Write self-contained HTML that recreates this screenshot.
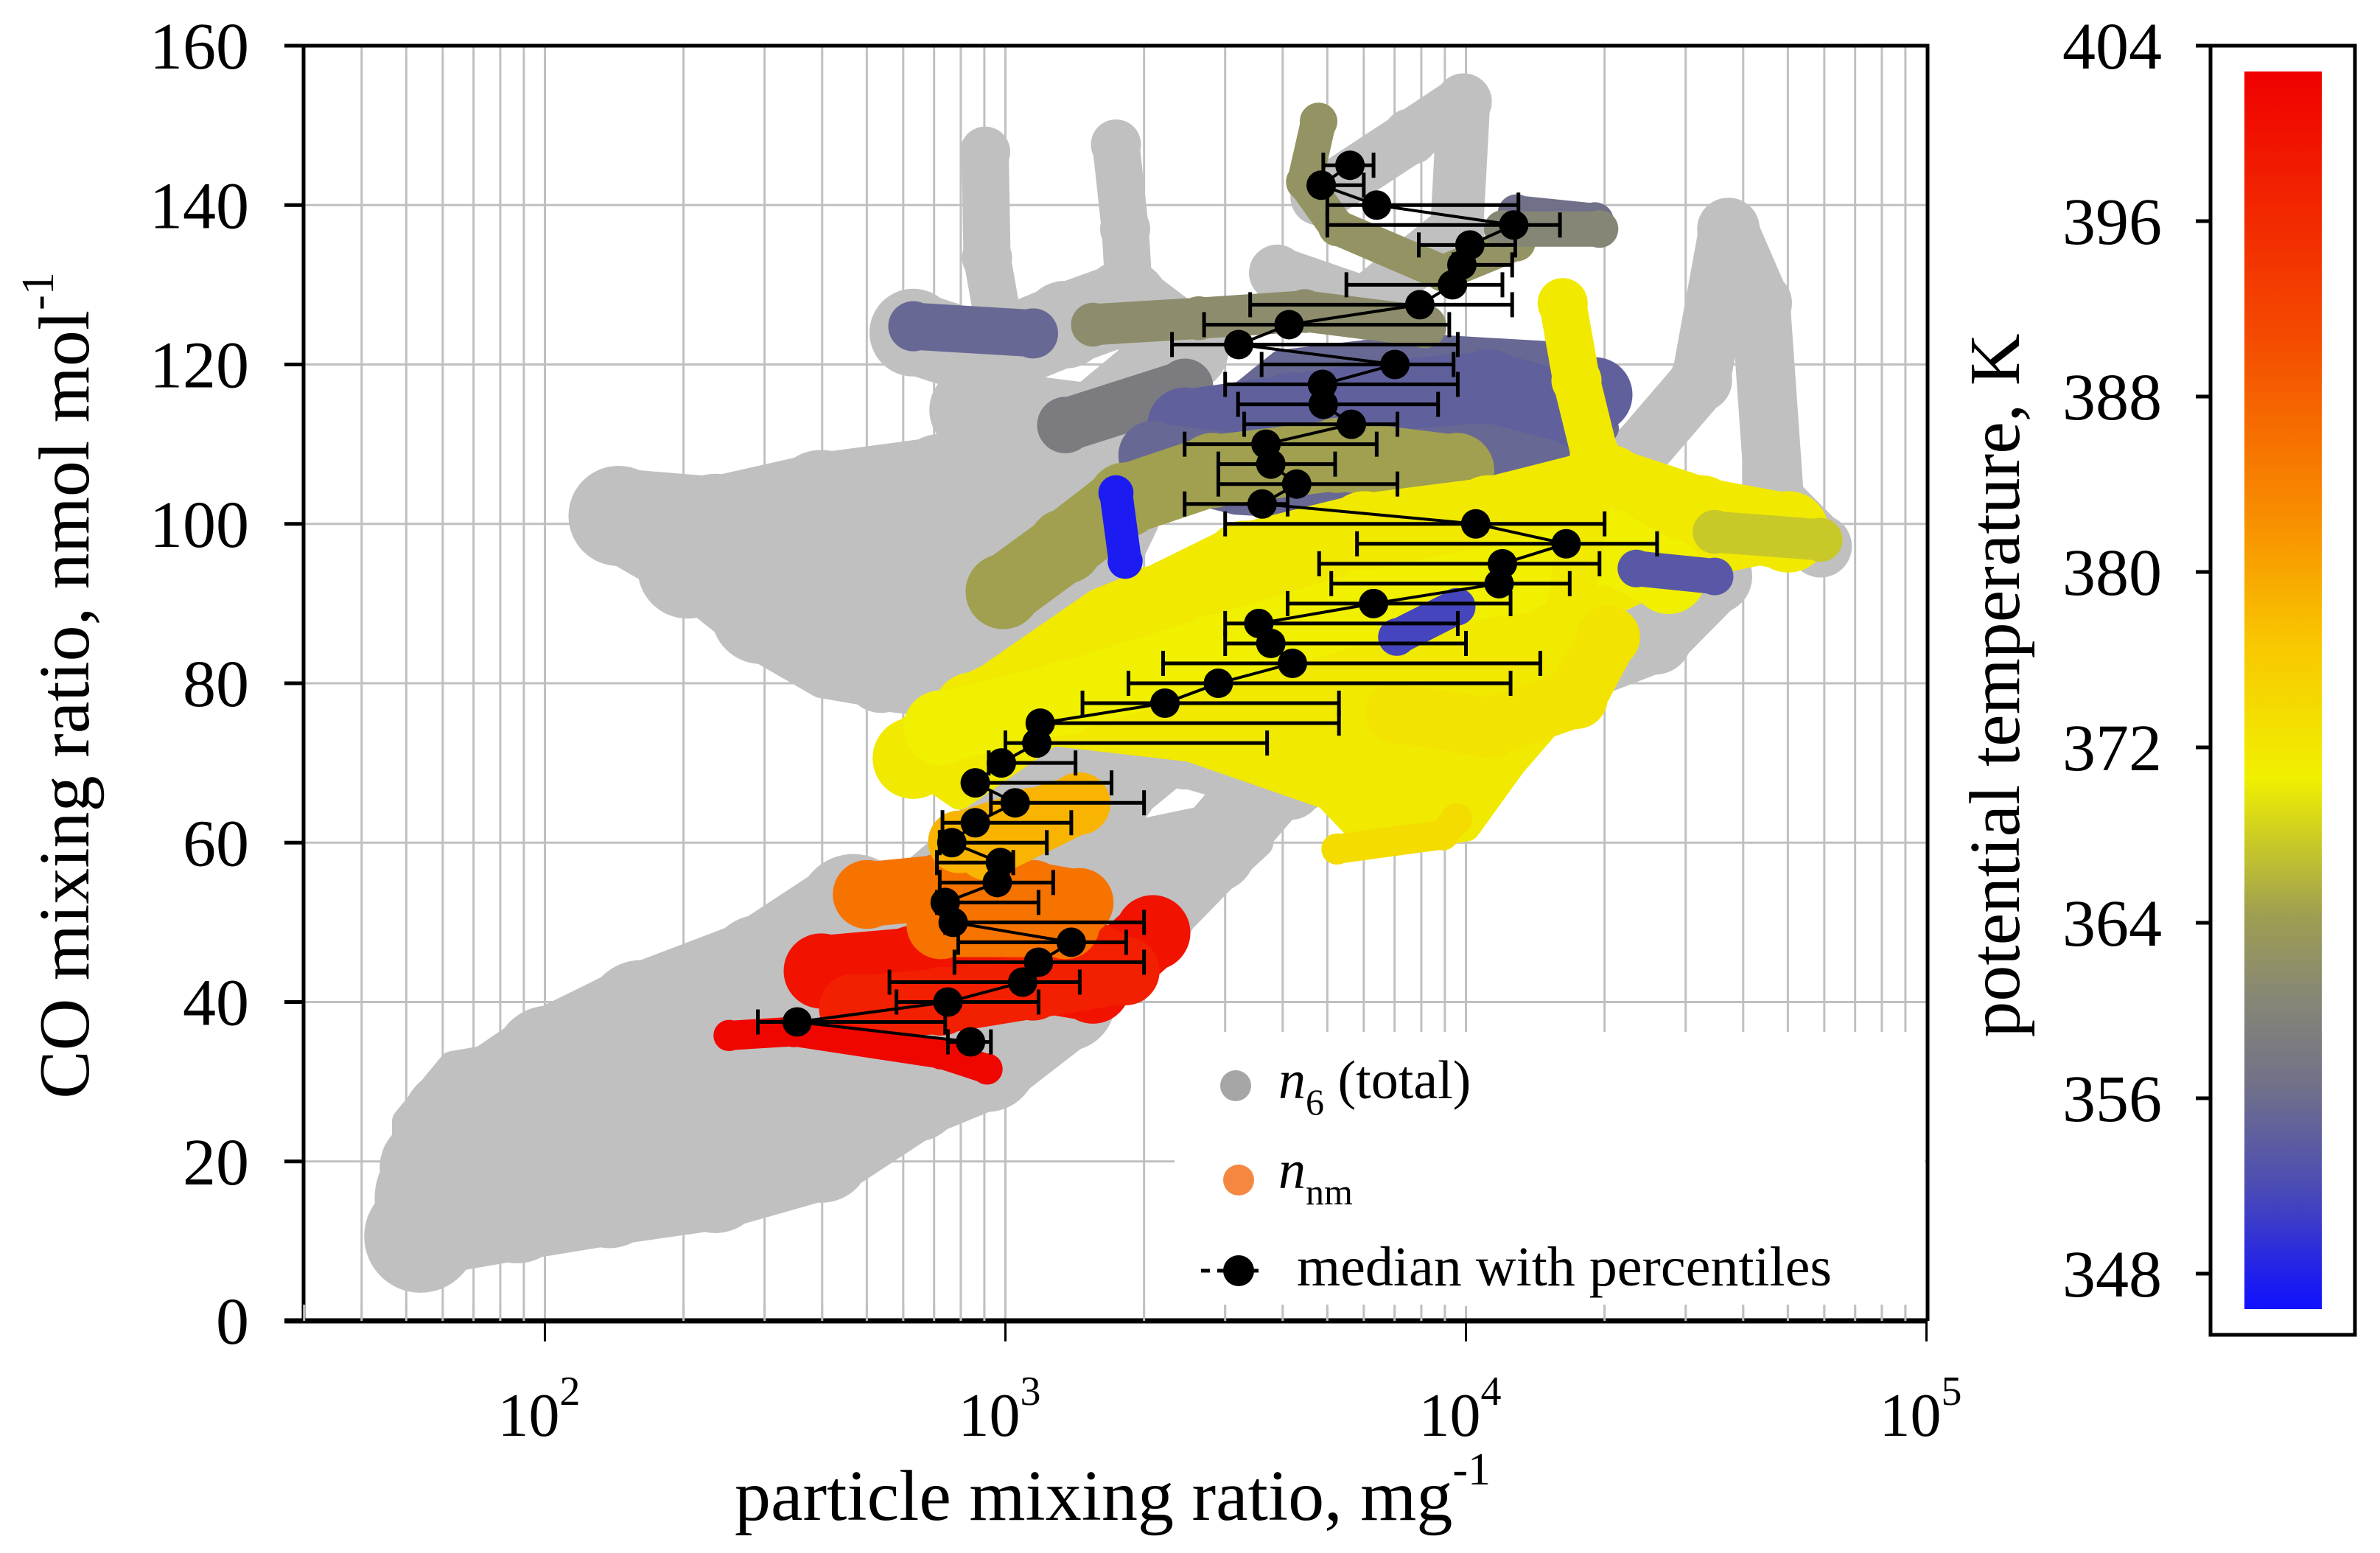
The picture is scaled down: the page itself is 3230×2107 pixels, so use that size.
<!DOCTYPE html>
<html><head><meta charset="utf-8">
<style>
html,body{margin:0;padding:0;background:#fff;}
svg{display:block;font-family:"Liberation Serif",serif;}
</style></head>
<body>
<svg id="chart" xmlns="http://www.w3.org/2000/svg" width="3230" height="2107" viewBox="0 0 3230 2107">
<defs>
<linearGradient id="cbgrad" x1="0" y1="0" x2="0" y2="1"></linearGradient>
<clipPath id="plotclip"><rect x="412" y="62" width="2204" height="1732"/></clipPath>
</defs>
<rect x="0" y="0" width="3230" height="2107" fill="#fff"/>
<g id="grid"></g>
<g id="clouds" clip-path="url(#plotclip)"></g>
<g id="medians"></g>
<g id="legend"></g>
<g id="axes"></g>
<g id="cbar"></g>
</svg>
<script>
// ---- data ----
const yTicks = [0,20,40,60,80,100,120,140,160];
const xDecades = [2,3,4,5];
const cbTicks = [404,396,388,380,372,364,356,348];

// median with percentiles (CO nmol/mol, particle mixing ratio mg^-1)
const medY  = [35,37.5,40,42.5,45,47.5,50,52.5,55,57.5,60,62.5,65,67.5,70,72.5,75,77.5,80,82.5,85,87.5,90,92.5,95,97.5,100,102.5,105,107.5,110,112.5,115,117.5,120,122.5,125,127.5,130,132.5,135,137.5,140,142.5,145];
const medX  = [840,353,750,1090,1180,1390,770,740,960,975,765,860,1050,860,980,1170,1190,2220,2900,4200,3770,3550,6300,11800,12000,16500,10500,3610,4290,3770,3680,5640,4900,4880,7010,3210,4130,7940,9350,9800,10200,12700,6400,4850,5600];
const medLo = [750,290,580,560,775,790,740,710,720,710,720,730,930,850,920,1000,1180,1470,1850,2200,3000,3000,4100,5100,4800,5800,3000,2450,2900,2900,2450,3300,3200,3000,3600,2300,2700,3400,5500,9400,7900,5000,5000,4700,4900];
const medHi = [930,740,1180,1450,2000,1830,2000,1180,1270,1040,1230,1390,2000,1700,1420,3700,5300,5300,12500,14500,10000,9600,12500,16800,19500,26000,20000,4100,7100,5200,6400,7100,8700,9600,9400,9600,9200,12600,12000,12600,12800,16000,13000,6000,6300];

// dense gray cloud outlines (log10 x, CO)
const grayAreaLogX = [
 [1.70,2.0,2.4,2.6,2.8,3.0,3.2,3.4,3.55,3.45,3.2,3.0,2.8,2.6,2.4,2.2,2.0,1.8,1.70],
 [2.15,2.4,2.6,2.9,3.2,3.3,3.2,3.0,2.8,2.6,2.45,2.3,2.15]
];
const grayAreaY = [
 [7,10,14,20,27,33,42,52,60,63,60,58,52,46,40,37,34,32,25],
 [102,104,106,108,110,100,88,80,78,80,85,92,97]
];
// dense coloured cloud outlines
const colAreaLogX = [
 [2.8,2.95,3.2,3.5,3.9,4.3,4.6,4.75,4.5,4.3,4.25,4.1,4.0,3.8,3.7,3.4,3.1,2.9],
 [3.3,3.6,3.9,4.2,4.3,4.1,3.8,3.5]
];
const colAreaY = [
 [70,80,90,97,101,104,101,98,95,90,80,70,62,60,66,72,74,66],
 [106,120,122,121,112,105,102,103]
];
const colAreaTheta = [373,357];

// gray n6 (total) tracks: log10(particle mixing ratio), CO
const grayLogX = [
 [1.78,1.98,2.21,2.40,2.60,2.80,2.995,3.19,3.39],
 [1.73,1.81,2.01,2.21,2.47,2.67],
 [1.75,1.94,2.14,2.37,2.60,2.80,2.96,3.13],
 [2.86,3.13,3.32,3.45,3.62,3.78,3.95],
 [2.16,2.37,2.60,2.86,3.09],
 [2.31,2.54,2.80,3.13],
 [2.47,2.67,2.93,3.19],
 [2.73,2.995,3.26],
 [2.80,2.96,3.13,3.26,3.39,3.19,2.93],
 [2.956,2.96,2.995],
 [3.24,3.26,3.27],
 [3.68,3.88,3.995,3.98,3.78,3.59],
 [4.11,4.37,4.51,4.57,4.64,4.67,4.77],
 [4.24,4.41,4.54,4.31,4.11],
 [3.39,3.62,3.85,4.08],
 [1.72,1.80,1.90]
];
const grayY = [
 [15.4,21.1,26.8,32.5,38.2,47.8,57.3,68.7,78.2],
 [10.6,24.7,32.5,38.2,43.9,51.5],
 [19.2,13.5,15.4,17.3,21.1,28.7,32.5,40.1],
 [36.3,43.9,51.5,59.2,70.6,80,85.8],
 [101,100,103,105,107],
 [94.4,92.5,95.3,99],
 [88.7,83.9,85.8,89.6],
 [81,79.1,82],
 [124,121,125,127.7,122,112.4,114.3],
 [146.7,133.4,122],
 [147.6,137,127.7],
 [141,148.6,153,137,127.7,131.5],
 [101,108.6,118,137,127.7,103,97.2],
 [82,85.8,93.4,95.3,85.8],
 [70.6,66.8,74.4,78.2],
 [8,14,20]
];
const grayW = [110,90,80,70,80,80,80,60,70,40,40,45,50,60,50,50];

// coloured nm tracks with potential temperature (K)
const colLogX = [
 [2.60,2.80,2.995,3.19,3.32],
 [2.67,2.86,3.06,3.26,3.13],
 [2.40,2.54,2.86,2.96],
 [2.70,2.86,3.06,3.16,3.13,2.86],
 [2.90,3.06,3.16,2.96],
 [3.13,3.39],
 [3.39,3.62,3.85,4.05,4.24,4.28],
 [3.32,3.59,3.78,3.98,4.11],
 [2.80,3.06],
 [4.11,4.28],
 [3.19,3.42,3.65,3.91],
 [3.68,3.65,3.72,3.95,4.11],
 [4.08,4.29],
 [2.995,3.13,3.26,3.45,3.72,3.98],
 [2.80,2.93,3.13,3.32,3.52,3.78,4.05,4.31,4.51,4.70],
 [2.86,3.13,3.45,3.78,4.11,4.31,4.44],
 [3.72,3.88,4.05,4.21,4.28,4.24,4.21],
 [3.72,3.95,3.98],
 [3.85,4.05,4.24,4.31],
 [4.54,4.77],
 [3.24,3.26],
 [3.85,3.98],
 [4.37,4.54]
];
const colY = [
 [43.9,44.9,43.9,42,48.7],
 [39.2,40.1,42,43.9,47.8],
 [35.8,36.3,33.5,31.6],
 [53.5,54.4,53.5,52.5,49.7,49.7],
 [60.1,63,64.9,59.2],
 [112.4,117.2],
 [112.4,114.3,116.2,117.2,114.3,116.2],
 [108.6,106.7,103,97.2,93.4],
 [124.8,123.9],
 [139,138],
 [125,125.8,126.7,124.8],
 [150.5,142.9,137.2,131.5,135.3],
 [137,137],
 [91.5,97.2,103,106.7,108.6,106.7],
 [70.6,76.3,82,89.6,95.3,99,101,104.8,101,99],
 [74.4,78.2,83.9,89.6,93.4,97.2,93.4],
 [66.8,70.6,76.3,83.9,108.6,118,127.7],
 [59.2,61,63],
 [76.3,74.4,78.2,85.8],
 [99,98],
 [103.9,95.3],
 [85.8,89.6],
 [94.4,93.4]
];
const colTheta = [401,399,403,387,380,360,356,357,357,358,363,364,362,366,373,372,373,375,374,369,349,353,355];
const colW = [60,55,25,55,50,45,60,55,40,30,35,30,30,60,65,60,40,25,50,35,28,30,30];

// colormap
const cmapT = [348,354,358,362,366,372,378,384,392,404];
const cmapC = [[16,16,255],[80,80,176],[112,112,138],[134,134,118],[160,160,80],[240,240,0],[248,200,0],[248,140,0],[244,74,0],[240,0,0]];

// ---- scales ----
const NS='http://www.w3.org/2000/svg';
const X0=412, X1=2616, Y0=1792, Y1=62;
function xs(logv){return 739.5+(logv-2)*625;}
function xv(v){return xs(Math.log10(v));}
function ys(v){return Y0-(v/160)*(Y0-Y1);}
function cbY(t){return 62+(404-t)*29.75;}
function cmap(t){
  if(t<=cmapT[0]) return cmapC[0];
  for(let i=1;i<cmapT.length;i++){ if(t<=cmapT[i]){const f=(t-cmapT[i-1])/(cmapT[i]-cmapT[i-1]);return cmapC[i-1].map((c,k)=>Math.round(c+(cmapC[i][k]-c)*f));}}
  return cmapC[cmapC.length-1];
}
function rgb(a){return 'rgb('+a.join(',')+')';}
function mk(tag,attrs,parent){const e=document.createElementNS(NS,tag);for(const k in attrs)e.setAttribute(k,attrs[k]);parent.appendChild(e);return e;}

// ---- grid ----
const grid=document.getElementById('grid');
for(let d=1;d<=4;d++){for(let m=1;m<=9;m++){const lv=d+Math.log10(m);if(lv<1.476||lv>5)continue;const x=xs(lv);
  const l=mk('line',{x1:x,x2:x,y1:Y1,y2:Y0,stroke:'#c0c0c0','stroke-width':3},grid);
  
  }}
yTicks.forEach(v=>{const l=mk('line',{x1:X0,x2:X1,y1:ys(v),y2:ys(v),stroke:'#c0c0c0','stroke-width':3},grid);
  
  });

// ---- clouds ----
const clouds=document.getElementById('clouds');
function area(lx,yy,col,name){
  const pts=lx.map((v,i)=>xs(v).toFixed(1)+','+ys(yy[i]).toFixed(1)).join(' ');
  const p=mk('polygon',{points:pts,fill:col,stroke:col,'stroke-width':40,'stroke-linejoin':'round'},clouds);
  
  
}
function track(lx,yy,w,col,name){
  const pts=lx.map((v,i)=>xs(v).toFixed(1)+','+ys(yy[i]).toFixed(1)).join(' ');
  const p=mk('polyline',{points:pts,fill:'none',stroke:col,'stroke-width':w*1.6,'stroke-linecap':'round','stroke-linejoin':'round'},clouds);
  
  
  lx.forEach((v,i)=>{const c=mk('circle',{cx:xs(v),cy:ys(yy[i]),r:w*0.85,fill:col},clouds);
    
    });
}
grayAreaLogX.forEach((lx,i)=>area(lx,grayAreaY[i],'#c0c0c0','n6-total-cloud'));
grayLogX.forEach((lx,i)=>track(lx,grayY[i],grayW[i],'#c0c0c0','n6-total-track'));
colAreaLogX.forEach((lx,i)=>area(lx,colAreaY[i],rgb(cmap(colAreaTheta[i])),'nnm-cloud'));
colLogX.forEach((lx,i)=>track(lx,colY[i],colW[i],rgb(cmap(colTheta[i])),'nnm-track'));

// ---- medians ----
const med=document.getElementById('medians');
medY.forEach((v,i)=>{const y=ys(v);
  const e=mk('line',{x1:xv(medLo[i]),x2:xv(medHi[i]),y1:y,y2:y,stroke:'#000','stroke-width':5},med);
  
  
  [medLo[i],medHi[i]].forEach(b=>{const c=mk('line',{x1:xv(b),x2:xv(b),y1:y-17,y2:y+17,stroke:'#000','stroke-width':5},med);
    
    });
});
const mpts=medY.map((v,i)=>xv(medX[i]).toFixed(1)+','+ys(v).toFixed(1)).join(' ');
const ml=mk('polyline',{points:mpts,fill:'none',stroke:'#000','stroke-width':4},med);


medY.forEach((v,i)=>{const c=mk('circle',{cx:xv(medX[i]),cy:ys(v),r:20,fill:'#000'},med);
  
  });
</script>
<script>
// ---- legend ----
(function(){
const lg=document.getElementById('legend');
const bg=mk('rect',{x:1594,y:1400,width:1018,height:372,fill:'#fff'},lg);


const c1=mk('circle',{cx:1677,cy:1473,r:21,fill:'#a6a6a6'},lg);


const t1=mk('text',{x:1735,y:1490,'font-size':74},lg);


t1.innerHTML='<tspan font-style="italic">n</tspan><tspan font-size="50" dy="22">6</tspan><tspan dy="-22"> (total)</tspan>';
const c2=mk('circle',{cx:1681,cy:1601,r:21,fill:'#f58840'},lg);


const t2=mk('text',{x:1735,y:1612,'font-size':74},lg);


t2.innerHTML='<tspan font-style="italic">n</tspan><tspan font-size="50" dy="22">nm</tspan>';
const l3=mk('line',{x1:1630,x2:1716,y1:1724,y2:1724,stroke:'#000','stroke-width':5,'stroke-dasharray':'12 10'},lg);


const c3=mk('circle',{cx:1681,cy:1724,r:21,fill:'#000'},lg);


const t3=mk('text',{x:1760,y:1744,'font-size':76},lg);


t3.textContent='median with percentiles';

// ---- axes ----
const ax=document.getElementById('axes');
const fr=mk('path',{d:`M${X0},${Y1} H${X1} V${Y0} M${X0},${Y1} V${Y0}`,fill:'none',stroke:'#000','stroke-width':5},ax);


const bx=mk('line',{x1:386,x2:X1,y1:Y0,y2:Y0,stroke:'#000','stroke-width':7},ax);


yTicks.forEach(v=>{const t=mk('line',{x1:386,x2:X0,y1:ys(v),y2:ys(v),stroke:'#000','stroke-width':5},ax);
  
  
  const l=mk('text',{x:338,y:ys(v)+31,'font-size':90,'text-anchor':'end'},ax);
  
  
  l.textContent=v;});
xDecades.forEach(d=>{const x=xs(d);
  const t=mk('line',{x1:x,x2:x,y1:Y0,y2:1820,stroke:'#000','stroke-width':3},ax);
  
  
  const l=mk('text',{x:x-8,y:1948,'font-size':84,'text-anchor':'middle'},ax);
  
  
  l.innerHTML='10<tspan font-size="56" dy="-42">'+d+'</tspan>';});
for(let d=1;d<=4;d++){for(let m=2;m<=9;m++){const lv=d+Math.log10(m);if(lv<1.476)continue;const x=xs(lv);
  const t=mk('line',{x1:x,x2:x,y1:1770,y2:Y0,stroke:'#c0c0c0','stroke-width':3},ax);
  
  }}
const xt=mk('text',{x:1510,y:2062,'font-size':98,'text-anchor':'middle'},ax);


xt.innerHTML='particle mixing ratio, mg<tspan font-size="62" dy="-48">-1</tspan>';
const yt=mk('text',{x:0,y:0,'font-size':98,'text-anchor':'middle',transform:'translate(120,930) rotate(-90)'},ax);


yt.innerHTML='CO mixing ratio, nmol mol<tspan font-size="62" dy="-48">-1</tspan>';

// ---- colorbar ----
const cb=document.getElementById('cbar');
const grad=document.getElementById('cbgrad');
for(let t=404;t>=348;t-=2){const s=mk('stop',{offset:((404-t)/56).toFixed(3),'stop-color':rgb(cmap(t))},grad);
  
  }
const box=mk('rect',{x:3000,y:62,width:196,height:1749,fill:'#fff',stroke:'#000','stroke-width':5},cb);


const gr=mk('rect',{x:3046,y:97,width:105,height:1679,fill:'url(#cbgrad)'},cb);


cbTicks.forEach(t=>{const y=cbY(t);
  const k=mk('line',{x1:2980,x2:3000,y1:y,y2:y,stroke:'#000','stroke-width':5},cb);
  
  
  const l=mk('text',{x:2934,y:y+31,'font-size':90,'text-anchor':'end'},cb);
  
  
  l.textContent=t;});
const ct=mk('text',{x:0,y:0,'font-size':98,'text-anchor':'middle',transform:'translate(2740,930) rotate(-90)'},cb);


ct.textContent='potential temperature, K';
})();
</script>
</body></html>
